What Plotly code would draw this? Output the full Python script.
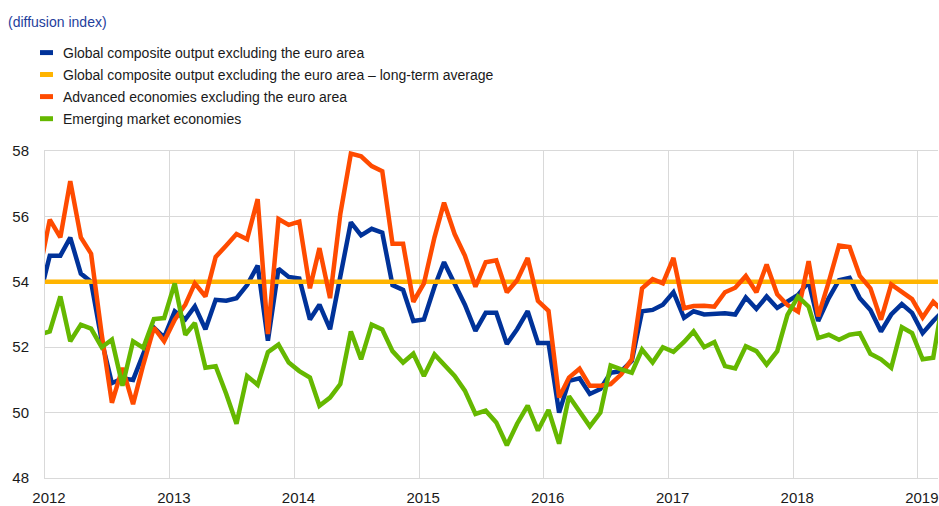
import pandas as pd
import plotly.graph_objects as go

# Monthly observations, Dec 2011 .. Mar 2019 (plotted mid-month)
start_month = "2011-12-01"

global_composite = [
    53.5,
    54.8, 54.8, 55.35, 54.25, 54.0, 52.2, 50.9, 51.05, 51.0, 51.8, 52.6, 52.3,
    53.1, 52.85, 53.25, 52.55, 53.45, 53.42, 53.5, 53.9, 54.5, 52.2, 54.4, 54.15,
    54.1, 52.85, 53.3, 52.55, 54.1, 55.82, 55.42, 55.62, 55.5, 53.9, 53.75, 52.8,
    52.85, 53.85, 54.6, 53.95, 53.3, 52.5, 53.05, 53.05, 52.1, 52.55, 53.1, 52.13,
    52.13, 50.0, 50.97, 51.05, 50.57, 50.72, 51.22, 51.27, 51.58, 53.1, 53.14, 53.3,
    53.68, 52.9, 53.1, 53.0, 53.03, 53.04, 53.0, 53.52, 53.17, 53.55, 53.2, 53.4,
    53.6, 54.0, 52.8, 53.5, 54.05, 54.12, 53.5, 53.14, 52.48, 53.0, 53.32, 53.05,
    52.43, 52.8, 53.1,
]

advanced_economies = [
    54.3,
    55.9, 55.36, 57.08, 55.36, 54.86, 52.4, 50.3, 51.37, 50.26, 51.47, 52.6, 52.18,
    52.84, 53.3, 53.95, 53.55, 54.76, 55.11, 55.46, 55.3, 56.53, 52.4, 55.92, 55.74,
    55.84, 53.8, 55.03, 53.5, 56.07, 57.92, 57.84, 57.54, 57.38, 55.16, 55.16, 53.39,
    53.95, 55.36, 56.42, 55.46, 54.8, 53.85, 54.6, 54.66, 53.68, 54.05, 54.73, 53.42,
    53.11, 50.46, 51.07, 51.34, 50.82, 50.82, 50.87, 51.17, 51.63, 53.8, 54.08, 53.95,
    54.73, 53.19, 53.26, 53.27, 53.24, 53.68, 53.82, 54.18, 53.68, 54.53, 53.62, 53.29,
    53.09, 54.63, 52.94, 54.0, 55.11, 55.06, 54.18, 53.8, 52.84, 53.92, 53.68, 53.47,
    52.91, 53.39, 53.1,
]

emerging_markets = [
    52.38,
    52.48, 53.55, 52.18, 52.69, 52.57, 52.0, 52.23, 50.82, 52.18, 51.98, 52.86, 52.89,
    53.95, 52.38, 52.74, 51.37, 51.42, 50.57, 49.66, 51.12, 50.85, 51.85, 52.08, 51.53,
    51.27, 51.07, 50.21, 50.46, 50.87, 52.48, 51.63, 52.69, 52.54, 51.88, 51.53, 51.8,
    51.12, 51.78, 51.45, 51.12, 50.67, 49.96, 50.06, 49.7, 49.0, 49.66, 50.21, 49.45,
    50.08, 49.05, 50.5, 50.06, 49.58, 50.0, 51.44, 51.32, 51.22, 51.93, 51.53, 52.0,
    51.86, 52.16, 52.48, 52.0, 52.16, 51.42, 51.35, 52.03, 51.88, 51.47, 51.88, 52.99,
    53.55, 53.24, 52.28, 52.38, 52.23, 52.38, 52.43, 51.8, 51.63, 51.37, 52.61, 52.43,
    51.63, 51.68, 53.44,
]

long_term_average_value = 54.0
long_term_average = [long_term_average_value] * len(global_composite)

year_ticks = ["2012", "2013", "2014", "2015", "2016", "2017", "2018", "2019"]
y_ticks = [48, 50, 52, 54, 56, 58]

series_names = [
    "Global composite output excluding the euro area",
    "Global composite output excluding the euro area \u2013 long-term average",
    "Advanced economies excluding the euro area",
    "Emerging market economies",
]
series_colors = ["#003299", "#FFB400", "#FF4B00", "#65B800"]
title_text = "(diffusion index)"

dates = pd.date_range(start_month, periods=len(global_composite), freq="MS") + pd.Timedelta(days=14)

W, H = 939, 506
ML, MR, MT, MB = 45, 0, 151, 25
PW, PH = W - ML - MR, H - MT - MB

def px_x(x):
    return (x - ML) / PW

def px_y(y):
    return (H - MB - y) / PH

FONT = "Liberation Sans, Arial, sans-serif"

fig = go.Figure()
all_series = [global_composite, long_term_average, advanced_economies, emerging_markets]
for name, vals, col in zip(series_names, all_series, series_colors):
    fig.add_trace(go.Scatter(
        x=dates, y=vals, mode="lines", name=name,
        line=dict(color=col, width=4.5), showlegend=False,
        hoverinfo="skip",
    ))

shapes = []
annotations = []
row_centers = [51.7, 73.8, 96.1, 118.4]
for name, col, yc in zip(series_names, series_colors, row_centers):
    shapes.append(dict(
        type="rect", xref="paper", yref="paper",
        x0=px_x(40), x1=px_x(53), y0=px_y(yc + 2.5), y1=px_y(yc - 2.5),
        fillcolor=col, line=dict(width=0),
    ))
    annotations.append(dict(
        text=name, xref="paper", yref="paper", x=px_x(61), y=px_y(yc),
        xanchor="left", yanchor="middle", showarrow=False,
        font=dict(family=FONT, size=14, color="#1a1a1a"),
    ))
annotations.append(dict(
    text=title_text, xref="paper", yref="paper", x=px_x(6), y=px_y(20.5),
    xanchor="left", yanchor="middle", showarrow=False,
    font=dict(family=FONT, size=14, color="#1f3e9c"),
))

fig.update_layout(
    width=W, height=H,
    margin=dict(l=ML, r=MR, t=MT, b=MB, pad=0),
    paper_bgcolor="white", plot_bgcolor="white",
    font=dict(family=FONT, size=15, color="#1a1a1a"),
    shapes=shapes, annotations=annotations,
    showlegend=False,
)
fig.update_xaxes(
    type="date",
    range=["2012-01-01", "2019-03-01"],
    tickvals=[f"{y}-01-01" for y in year_ticks],
    ticktext=year_ticks,
    showgrid=True, gridcolor="#d9d9d9", gridwidth=1,
    showline=True, linecolor="#d9d9d9", linewidth=1, mirror=True,
    zeroline=False, ticks="", ticklabelshift=4, ticklabelstandoff=6,
    ticklabeloverflow="allow",
    tickfont=dict(family=FONT, size=15, color="#1a1a1a"),
)
fig.update_yaxes(
    range=[48, 58],
    tickvals=y_ticks,
    showgrid=True, gridcolor="#d9d9d9", gridwidth=1,
    showline=True, linecolor="#d9d9d9", linewidth=1,
    zeroline=False, ticks="", ticklabelstandoff=12,
    tickfont=dict(family=FONT, size=15, color="#1a1a1a"),
)

fig.write_html(
    "out.html",
    config={"displayModeBar": False, "staticPlot": True},
    post_script="document.body.style.margin='0';document.body.style.overflow='hidden';",
)
